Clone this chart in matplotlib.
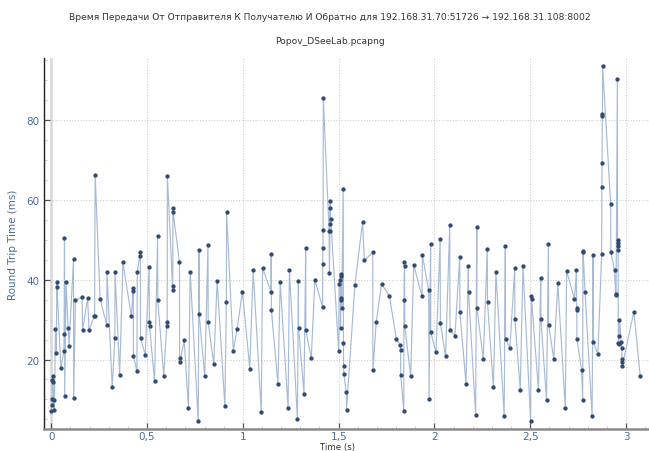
import matplotlib
matplotlib.use("Agg")
import matplotlib.pyplot as plt
from matplotlib.ticker import MultipleLocator, FuncFormatter

# Round trip time samples (time in s, rtt in ms)
time_s = [
    0.000, 0.002, 0.004, 0.006, 0.007, 0.010, 0.012, 0.016, 0.022, 0.026,
    0.029, 0.030, 0.050, 0.066, 0.067, 0.069, 0.070, 0.077, 0.088, 0.093,
    0.116, 0.117, 0.126, 0.161, 0.163, 0.190, 0.197, 0.224, 0.226, 0.229,
    0.255, 0.289, 0.291, 0.318, 0.332, 0.333, 0.357, 0.374, 0.418, 0.427,
    0.428, 0.429, 0.447, 0.449, 0.464, 0.465, 0.466, 0.490, 0.511, 0.512,
    0.513, 0.539, 0.555, 0.556, 0.587, 0.604, 0.605, 0.606, 0.633, 0.634,
    0.635, 0.636, 0.669, 0.670, 0.672, 0.694, 0.716, 0.725, 0.767, 0.771,
    0.772, 0.801, 0.818, 0.819, 0.848, 0.866, 0.906, 0.914, 0.915, 0.950,
    0.970, 0.998, 1.036, 1.054, 1.096, 1.103, 1.147, 1.148, 1.149, 1.183,
    1.195, 1.236, 1.243, 1.285, 1.290, 1.291, 1.319, 1.328, 1.329, 1.357,
    1.376, 1.416, 1.417, 1.418, 1.419, 1.420, 1.450, 1.452, 1.454, 1.455,
    1.456, 1.457, 1.459, 1.500, 1.503, 1.509, 1.510, 1.511, 1.512, 1.513,
    1.514, 1.516, 1.524, 1.525, 1.526, 1.527, 1.540, 1.541, 1.585, 1.625,
    1.634, 1.678, 1.679, 1.696, 1.724, 1.765, 1.801, 1.822, 1.823, 1.824,
    1.840, 1.841, 1.843, 1.844, 1.845, 1.876, 1.892, 1.935, 1.937, 1.970,
    1.972, 1.980, 1.981, 2.008, 2.030, 2.031, 2.058, 2.080, 2.081, 2.107,
    2.132, 2.133, 2.165, 2.177, 2.178, 2.215, 2.221, 2.222, 2.255, 2.276,
    2.277, 2.308, 2.321, 2.364, 2.370, 2.371, 2.394, 2.419, 2.420, 2.448,
    2.462, 2.502, 2.506, 2.507, 2.543, 2.555, 2.556, 2.585, 2.595, 2.596,
    2.623, 2.644, 2.683, 2.690, 2.731, 2.741, 2.742, 2.743, 2.744, 2.768,
    2.774, 2.775, 2.776, 2.786, 2.823, 2.828, 2.829, 2.853, 2.873, 2.874,
    2.875, 2.876, 2.877, 2.878, 2.920, 2.921, 2.940, 2.946, 2.948, 2.955,
    2.956, 2.957, 2.958, 2.959, 2.960, 2.962, 2.964, 2.966, 2.975, 2.978,
    2.979, 2.980, 2.981, 3.041, 3.074,
]
rtt_ms = [
    7.0, 8.7, 10.0, 14.9, 15.9, 14.3, 9.9, 7.3, 27.6, 21.6,
    39.5, 38.1, 17.8, 22.2, 26.4, 50.4, 10.8, 39.3, 27.8, 23.5,
    45.2, 10.4, 34.8, 35.6, 27.4, 35.3, 27.3, 30.8, 30.9, 66.1,
    35.1, 28.7, 41.8, 13.0, 25.3, 41.8, 16.2, 44.3, 30.8, 37.8,
    37.1, 20.8, 17.0, 41.8, 46.8, 46.0, 25.3, 21.2, 43.1, 29.5,
    28.4, 14.5, 50.9, 34.8, 15.9, 29.5, 28.4, 66.0, 38.3, 37.3,
    57.9, 56.9, 44.4, 20.5, 19.4, 24.8, 7.8, 42.0, 4.5, 47.4,
    31.3, 15.8, 48.7, 29.5, 18.9, 39.7, 8.3, 34.5, 56.9, 22.2,
    27.7, 37.0, 17.7, 42.3, 6.9, 42.9, 36.9, 46.5, 32.3, 13.9,
    39.3, 7.8, 42.3, 5.0, 39.7, 28.0, 11.4, 47.8, 27.3, 20.3,
    39.9, 33.1, 43.8, 47.8, 52.4, 85.5, 52.3, 41.6, 52.3, 58.0,
    59.6, 53.9, 55.2, 22.2, 38.9, 39.9, 28.0, 35.5, 40.9, 34.9,
    41.4, 33.0, 62.8, 24.1, 18.3, 16.4, 11.8, 7.4, 38.7, 54.5,
    44.8, 46.8, 17.3, 29.3, 38.9, 35.9, 25.2, 23.6, 22.4, 16.2,
    7.1, 34.8, 44.5, 43.4, 28.5, 15.8, 43.7, 35.8, 46.2, 37.3,
    10.2, 48.8, 26.8, 21.8, 50.2, 29.1, 20.8, 53.7, 27.3, 26.0,
    45.6, 31.8, 13.8, 43.5, 37.0, 6.2, 53.2, 32.8, 20.2, 47.6,
    34.3, 13.0, 41.8, 5.9, 48.4, 25.1, 23.0, 42.8, 30.1, 12.4,
    43.4, 4.7, 35.8, 35.1, 12.3, 40.3, 30.1, 9.8, 49.0, 28.7,
    20.2, 39.1, 7.8, 42.2, 35.1, 42.4, 32.9, 32.3, 25.1, 17.3,
    9.9, 47.0, 47.2, 37.0, 5.8, 46.2, 24.5, 21.3, 46.4, 63.1,
    69.3, 81.4, 81.0, 93.4, 58.9, 46.8, 42.4, 36.3, 36.2, 90.3,
    50.0, 49.2, 48.4, 47.5, 24.1, 23.9, 25.9, 29.9, 24.4, 22.9,
    20.1, 19.3, 18.5, 32.0, 15.9,
]

title_1 = "Время Передачи От Отправителя К Получателю И Обратно для 192.168.31.70:51726 \u2192 192.168.31.108:8002"
title_2 = "Popov_DSeeLab.pcapng"

label_col = "#4a6d96"

fig = plt.figure(figsize=(6.49, 4.52), dpi=100)
ax = fig.add_axes([44 / 649, 22 / 452, 605 / 649, 371 / 452])

ax.plot(time_s, rtt_ms, color="#a8bbd5", lw=0.85, zorder=3)
ax.plot(time_s, rtt_ms, ls="none", marker="o", ms=2.1, color="#2f4b74", zorder=4)

ax.axvline(0, color="#dedede", lw=2.0, zorder=1)

ax.set_xlim(-0.038, 3.12)
ax.set_ylim(2.6, 95.5)

ax.xaxis.set_major_locator(MultipleLocator(0.5))
ax.xaxis.set_minor_locator(MultipleLocator(0.1))
ax.yaxis.set_major_locator(MultipleLocator(20))
ax.yaxis.set_minor_locator(MultipleLocator(5))
ax.xaxis.set_major_formatter(FuncFormatter(lambda v, p: ("%g" % v).replace(".", ",")))

ax.grid(True, which="major", color="#cfcfcf", ls=(0, (1, 1.5)), lw=0.8, zorder=0)

for s in ["top", "right"]:
    ax.spines[s].set_visible(False)
ax.spines["left"].set_color("#222222")
ax.spines["left"].set_linewidth(1.0)
ax.spines["bottom"].set_color("#8a8a8a")
ax.spines["bottom"].set_linewidth(1.8)

ax.tick_params(axis="both", which="major", direction="in", length=4, width=0.9,
               colors="#555555", labelsize=7.5, labelcolor=label_col, pad=3)
ax.tick_params(axis="x", which="major", pad=1.5)
ax.tick_params(axis="both", which="minor", direction="in", length=2.5, width=0.6,
               colors="#c4c4c4")

ax.set_ylabel("Round Trip Time (ms)", color=label_col, fontsize=7.5, labelpad=6)
fig.text(0.52, 0.0, "Time (s)", ha="center", va="bottom", fontsize=6.2, color="#333333")

fig.text(0.508, 1 - 17 / 452, title_1, ha="center", va="center", fontsize=6.6, color="#333333")
fig.text(0.508, 1 - 41 / 452, title_2, ha="center", va="center", fontsize=6.6, color="#333333")

fig.savefig("out.png", dpi=100)
